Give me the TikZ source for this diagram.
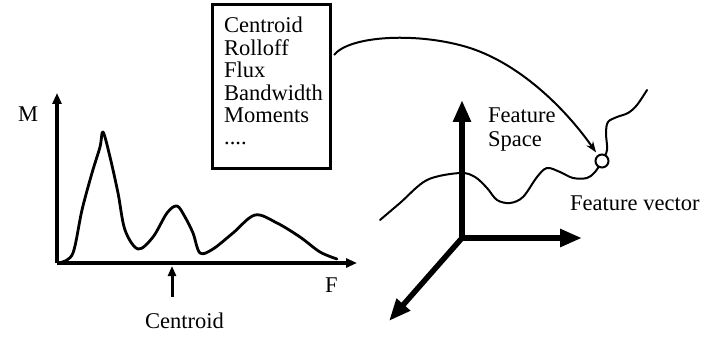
\documentclass[tikz,border=0pt]{standalone}
\usepackage{fontspec}
\setmainfont{Liberation Serif}
\usetikzlibrary{arrows.meta,calc}
\begin{document}
\begin{tikzpicture}[x=1pt,y=-1pt,
  lbl/.style={font=\fontsize{22.5}{24}\selectfont, inner sep=0pt},
  thinaxis/.style={line width=3.2pt, -{Triangle[length=11pt,width=9pt]}},
  bigaxis/.style={line width=5.5pt, -{Triangle[length=22pt,width=17pt]}},
  curve/.style={line width=2pt, line join=round, line cap=round},
  conn/.style={line width=2pt, -{Stealth[length=11pt,width=8pt]}, shorten >=3pt}]
\useasboundingbox (0,0) rectangle (720,342);
% left plot axes
\coordinate (o) at (57,263);
\coordinate (my) at (57,93);
\coordinate (fx) at (357,263);
\draw[thinaxis] (o) -- (my);
\draw[thinaxis] (o) -- (fx);
\node[lbl, anchor=base west] (M) at (18,122) {M};
\node[lbl, anchor=base west] (F) at (325,292) {F};
% spectrum
\draw[curve, line width=2.8pt] plot[smooth, tension=0.55] coordinates {
 (62,262) (73,253) (82,210) (92,173) (100,147) (103,132) (110,157) (118,193)
 (125,230) (138,249) (153,237) (167,213) (177,206) (185,217) (193,233)
 (200,253) (213,249) (233,233) (255,215) (277,223) (300,237) (320,252) (337,259)};
% centroid arrow
\node[lbl, anchor=base west] (cen) at (145,328) {Centroid};
\coordinate (ctail) at (172,297);
\coordinate (chead) at (172,266);
\draw[line width=3pt, -{Triangle[length=10pt,width=8pt]}] (ctail) -- (chead);
% feature box
\node[draw, line width=3pt, minimum width=118pt, minimum height=164pt, anchor=north west, inner sep=0pt] (box) at (211,3) {};
\node[lbl, anchor=north west, align=left, font=\fontsize{22.5}{22.4}\selectfont] (list) at (224,17)
 {Centroid\\Rolloff\\Flux\\Bandwidth\\Moments\\....};
% 3D axes
\coordinate (O3) at (462,238);
\coordinate (Z3) at (462,100);
\coordinate (X3) at (582,238);
\coordinate (Y3) at (389,321);
\draw[bigaxis] (O3) -- (Z3);
\draw[bigaxis] (O3) -- (X3);
\draw[bigaxis] (O3) -- (Y3);
\node[lbl, anchor=north west, align=left] (fs) at (488,108) {Feature\\Space};
\node[lbl, anchor=base west] (fvl) at (570,210) {Feature vector};
% feature curve
\draw[curve] plot[smooth, tension=0.55] coordinates {
 (380,220) (400,203) (427,180) (460,173) (475,177) (487,188) (497,200) (510,203)
 (523,197) (537,177) (547,168) (560,172) (573,178) (587,178) (595,172) (602,161)
 (607,150) (606,133) (608,122) (617,117) (628,113) (637,105) (647,90)};
\node[draw, circle, fill=white, line width=2pt, minimum size=13pt, inner sep=0pt] (fv) at (602,161) {};
% connector
\draw[conn] ($(box.north east)+(2,52)$) .. controls (350,35) and (420,32) .. (470,48)
  .. controls (525,66) and (570,115) .. (fv);
\end{tikzpicture}
\end{document}
